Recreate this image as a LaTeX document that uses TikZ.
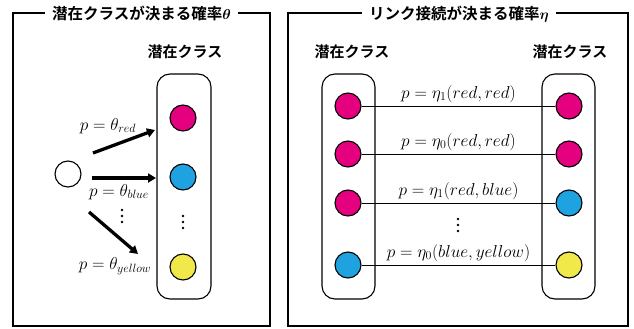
\documentclass[tikz,border=0pt]{standalone}
\usepackage{fontspec}
\usepackage{bm}
\newfontfamily\jp{Noto Sans CJK JP}[BoldFont={Noto Sans CJK JP Bold}]
\usetikzlibrary{arrows.meta}
\DeclareMathSizes{17}{17}{13}{10}
\definecolor{cred}{HTML}{E4007F}
\definecolor{cblue}{HTML}{1FA3E0}
\definecolor{cyel}{HTML}{F1E84A}
\tikzset{
  frame/.style={draw=black,line width=1.8pt},
  ttl/.style={fill=white,inner xsep=7pt,inner ysep=2pt,font=\jp\bfseries\fontsize{15.5}{18}\selectfont},
  hdr/.style={font=\jp\bfseries\fontsize{15}{18}\selectfont},
  grp/.style={draw=black,line width=1.1pt,rounded corners=13pt},
  ball/.style={circle,draw=black,line width=1.1pt,minimum size=26pt,inner sep=0pt},
  lab/.style={font=\fontsize{17}{19}\selectfont,inner sep=1pt},
  thickarr/.style={line width=3.3pt,-{Triangle[length=8pt,width=9pt]}},
  link/.style={line width=0.9pt},
  dotmark/.style={circle,fill=black,inner sep=0pt,minimum size=2.6pt}
}
\begin{document}
\begin{tikzpicture}[x=1pt,y=-1pt]
\useasboundingbox (0,0) rectangle (634,329);
% frames
\draw[frame] (13,13) rectangle (270,326);
\node[ttl] (t1) at (141.5,14) {潜在クラスが決まる確率$\bm{\theta}$};
\draw[frame] (288,13) rectangle (628,326);
\node[ttl] (t2) at (459,14) {リンク接続が決まる確率$\bm{\eta}$};

% left panel
\node[hdr] (h1) at (185,52) {潜在クラス};
\draw[grp] (157,74) rectangle (211,299);
\node[ball,fill=cred] (a1) at (183,118) {};
\node[ball,fill=cblue] (a2) at (183,177) {};
\foreach \yy [count=\i] in {216,222,228} \node[dotmark] (ad\i) at (183,\yy) {};
\node[ball,fill=cyel] (a3) at (183,267) {};
\node[ball,fill=white] (w) at (68,174) {};
\coordinate (s1) at (93,153);
\coordinate (e1) at (155,130);
\coordinate (s2) at (92,178);
\coordinate (e2) at (156,178);
\coordinate (s3) at (89,212);
\coordinate (e3) at (138,254);
\draw[thickarr] (s1) -- (e1);
\draw[thickarr] (s2) -- (e2);
\draw[thickarr] (s3) -- (e3);
\node[lab] (p1) at (108,126) {$p=\theta_{red}$};
\node[lab] (p2) at (119,192) {$p=\theta_{blue}$};
\foreach \yy [count=\i] in {210,216,222} \node[dotmark] (pd\i) at (122,\yy) {};
\node[lab] (p3) at (115,266) {$p=\theta_{yellow}$};

% right panel
\node[hdr] (h2) at (352,52) {潜在クラス};
\node[hdr] (h3) at (570,52) {潜在クラス};
\draw[grp] (322,74) rectangle (375,299);
\draw[grp] (542,74) rectangle (595,299);
\node[ball,fill=cred] (l1) at (348,106) {};
\node[ball,fill=cred] (l2) at (348,154) {};
\node[ball,fill=cred] (l3) at (348,203) {};
\node[ball,fill=cblue] (l4) at (348,265) {};
\node[ball,fill=cred] (r1) at (569,106) {};
\node[ball,fill=cred] (r2) at (569,154) {};
\node[ball,fill=cblue] (r3) at (569,203) {};
\node[ball,fill=cyel] (r4) at (569,265) {};
\draw[link] (l1) -- node[lab,above=2pt] (q1) {$p=\eta_1(red,red)$} (r1);
\draw[link] (l2) -- node[lab,above=2pt] (q2) {$p=\eta_0(red,red)$} (r2);
\draw[link] (l3) -- node[lab,above=2pt] (q3) {$p=\eta_1(red,blue)$} (r3);
\draw[link] (l4) -- node[lab,above=2pt] (q4) {$p=\eta_0(blue,yellow)$} (r4);
\foreach \yy [count=\i] in {219,225,231} \node[dotmark] (qd\i) at (458,\yy) {};
\end{tikzpicture}
\end{document}
